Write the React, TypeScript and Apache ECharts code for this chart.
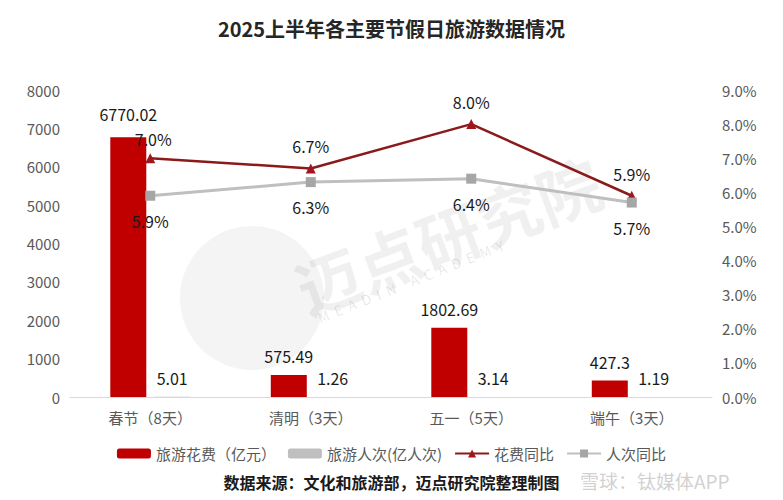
import React, { useEffect, useRef } from "react";
import * as echarts from "echarts";

const categories = ["春节（8天）", "清明（3天）", "五一（5天）", "端午（3天）"];
const spending = [6770.02, 575.49, 1802.69, 427.3];
const trips = [5.01, 1.26, 3.14, 1.19];
const spendingYoY = [7.0, 6.7, 8.0, 5.9];
const tripsYoY = [5.9, 6.3, 6.4, 5.7];

const FONT = "'Noto Sans CJK SC', 'Noto Sans', sans-serif";

export default function App() {
  const ref = useRef<HTMLDivElement>(null);
  useEffect(() => {
    if (!ref.current) return;
    const chart = echarts.init(ref.current, undefined, { renderer: "svg" });
    const labelStyle = { fontFamily: FONT, fontSize: 16, lineHeight: 16, color: "#1a1a1a" };
    chart.setOption({
      animation: false,
      backgroundColor: "#ffffff",
      textStyle: { fontFamily: FONT },
      title: {
        text: "2025上半年各主要节假日旅游数据情况",
        left: "center",
        top: 13,
        textStyle: { fontFamily: FONT, fontSize: 20, fontWeight: "bold", color: "#262626" },
      },
      graphic: [
        {
          type: "circle",
          shape: { cx: 252, cy: 298, r: 72 },
          style: { fill: "rgba(0,0,0,0.045)" },
          z: -1,
        },
        {
          type: "text",
          x: 298,
          y: 290,
          rotation: 0.36,
          style: {
            text: "迈点研究院",
            font: `bold 64px ${FONT}`,
            fill: "rgba(0,0,0,0.06)",
            verticalAlign: "middle",
          },
          z: -1,
        },
        {
          type: "text",
          x: 318,
          y: 318,
          rotation: 0.38,
          style: {
            text: "M  E  A  D  I  N     A  C  A  D  E  M  Y",
            font: `14px ${FONT}`,
            fill: "rgba(0,0,0,0.1)",
            verticalAlign: "middle",
          },
          z: -1,
        },
        {
          type: "text",
          left: "center",
          top: 474,
          style: {
            text: "数据来源：文化和旅游部，迈点研究院整理制图",
            font: `bold 16px ${FONT}`,
            fill: "#1a1a1a",
          },
        },
        {
          type: "text",
          x: 580,
          y: 471,
          style: {
            text: "雪球：钛媒体APP",
            font: `19px ${FONT}`,
            fill: "rgba(170,170,170,0.55)",
          },
          z: -1,
        },
      ],
      legend: {
        top: 441,
        left: "center",
        itemWidth: 34,
        itemHeight: 10,
        itemGap: 12,
        textStyle: { fontFamily: FONT, fontSize: 15, color: "#595959" },
        data: ["旅游花费（亿元）", "旅游人次(亿人次)", "花费同比", "人次同比"],
      },
      grid: { left: 70, right: 71, top: 90, bottom: 103 },
      xAxis: {
        type: "category",
        data: categories,
        axisLine: { lineStyle: { color: "#d9d9d9" } },
        axisTick: { show: false },
        axisLabel: { fontFamily: FONT, fontSize: 15, color: "#595959", margin: 13 },
      },
      yAxis: [
        {
          type: "value",
          min: 0,
          max: 8000,
          interval: 1000,
          splitLine: { show: false },
          axisLine: { show: false },
          axisTick: { show: false },
          axisLabel: {
            fontFamily: FONT,
            fontSize: 15,
            color: "#595959",
            margin: 10,
            formatter: (v: number) => String(v),
          },
        },
        {
          type: "value",
          min: 0,
          max: 9,
          interval: 1,
          splitLine: { show: false },
          axisLine: { show: false },
          axisTick: { show: false },
          axisLabel: {
            fontFamily: FONT,
            fontSize: 15,
            color: "#595959",
            margin: 10,
            formatter: (v: number) => v.toFixed(1) + "%",
          },
        },
      ],
      series: [
        {
          name: "旅游花费（亿元）",
          type: "bar",
          data: spending.map((v, i) =>
            i === 0 ? { value: v, label: { distance: 15 } } : v
          ),
          barWidth: 36,
          barGap: "22%",
          itemStyle: { color: "#C00000" },
          label: { show: true, position: "top", distance: 11, ...labelStyle },
        },
        {
          name: "旅游人次(亿人次)",
          type: "bar",
          data: trips,
          barWidth: 36,
          itemStyle: { color: "#BFBFBF" },
          label: { show: true, position: "top", distance: 11, ...labelStyle },
        },
        {
          name: "花费同比",
          type: "line",
          yAxisIndex: 1,
          data: spendingYoY.map((v, i) =>
            i === 0 ? { value: v, label: { distance: 6, offset: [3, 0] } } : v
          ),
          symbol: "triangle",
          symbolSize: 10,
          lineStyle: { color: "#8B1A1A", width: 2.5 },
          itemStyle: { color: "#A0161C" },
          label: {
            show: true,
            position: "top",
            distance: 9,
            ...labelStyle,
            formatter: (p: any) => Number(p.value).toFixed(1) + "%",
          },
        },
        {
          name: "人次同比",
          type: "line",
          yAxisIndex: 1,
          data: tripsYoY,
          symbol: "rect",
          symbolSize: 10,
          lineStyle: { color: "#BFBFBF", width: 3 },
          itemStyle: { color: "#A6A6A6" },
          label: {
            show: true,
            position: "bottom",
            distance: 12,
            ...labelStyle,
            formatter: (p: any) => Number(p.value).toFixed(1) + "%",
          },
        },
      ],
    });
    return () => chart.dispose();
  }, []);
  return <div ref={ref} style={{ width: 783, height: 500, margin: -8 }} />;
}
